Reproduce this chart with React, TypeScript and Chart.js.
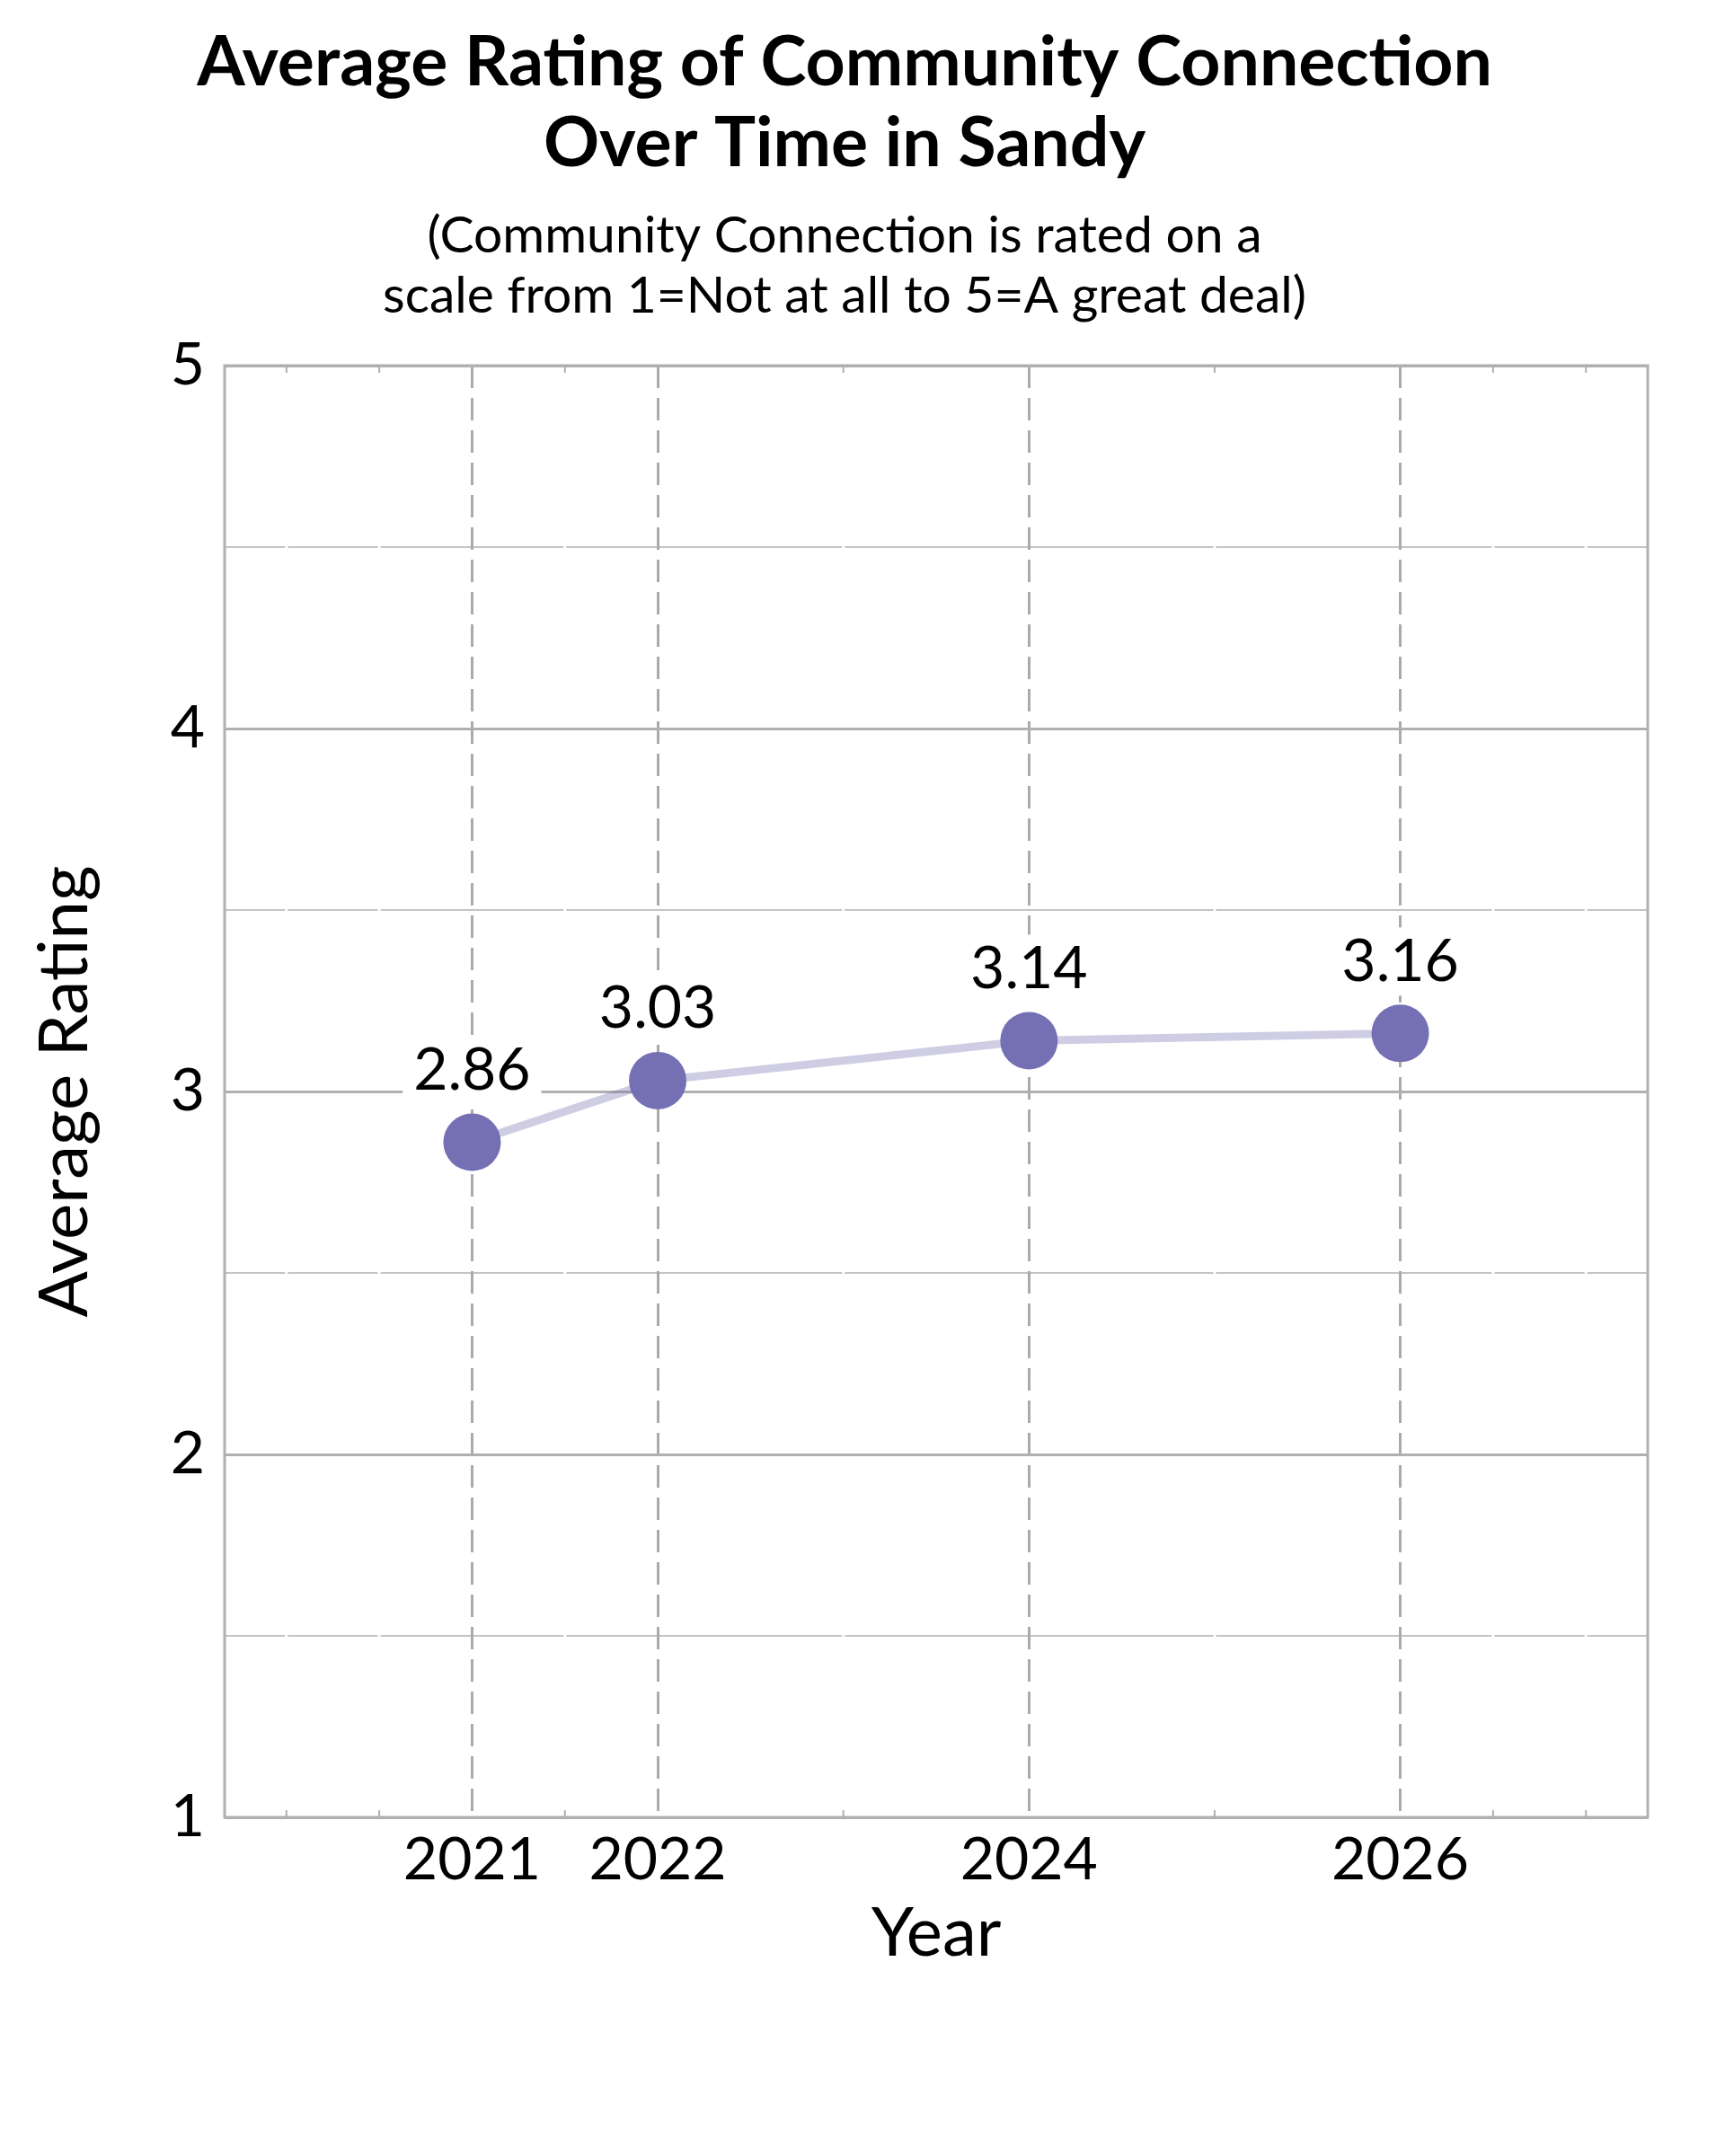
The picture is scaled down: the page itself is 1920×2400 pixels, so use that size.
import React, { useEffect, useRef } from 'react';
import { Chart, registerables } from 'chart.js';

Chart.register(...registerables);

// Data
const years = [2021, 2022, 2024, 2026];
const ratings = [2.86, 3.03, 3.14, 3.16];
const yearTicks = [2021, 2022, 2024, 2026];
const minorYearTicks = [2020, 2020.5, 2021.5, 2023, 2025, 2026.5, 2027];
const ratingTicks = [1, 2, 3, 4, 5];
const minorRatingTicks = [1.5, 2.5, 3.5, 4.5];
const titleLines = ['Average Rating of Community Connection', 'Over Time in Sandy'];
const subtitleLines = ['(Community Connection is rated on a', 'scale from 1=Not at all to 5=A great deal)'];

const FONT = 'Lato, "Open Sans", sans-serif';

// minor grid: light lines at half ratings, cut by white minor year lines
const minorGrid = {
  id: 'minorGrid',
  beforeDraw(chart: any) {
    const { ctx, chartArea, scales } = chart;
    ctx.save();
    ctx.strokeStyle = '#c4c4c4';
    ctx.lineWidth = 2;
    minorRatingTicks.forEach(v => {
      const y = scales.y.getPixelForValue(v);
      ctx.beginPath();
      ctx.moveTo(chartArea.left, y);
      ctx.lineTo(chartArea.right, y);
      ctx.stroke();
    });
    ctx.strokeStyle = '#ffffff';
    ctx.lineWidth = 3;
    minorYearTicks.forEach(v => {
      const x = scales.x.getPixelForValue(v);
      ctx.beginPath();
      ctx.moveTo(x, chartArea.top);
      ctx.lineTo(x, chartArea.bottom);
      ctx.stroke();
    });
    ctx.restore();
  },
};

// frame, small minor tick marks and value labels
const frameAndLabels = {
  id: 'frameAndLabels',
  beforeDatasetsDraw(chart: any) {
    const { ctx, chartArea, scales } = chart;
    ctx.save();
    ctx.strokeStyle = '#b0b0b0';
    ctx.lineWidth = 2;
    minorYearTicks.forEach(v => {
      const x = scales.x.getPixelForValue(v);
      ctx.beginPath();
      ctx.moveTo(x, chartArea.top);
      ctx.lineTo(x, chartArea.top + 8);
      ctx.moveTo(x, chartArea.bottom);
      ctx.lineTo(x, chartArea.bottom - 8);
      ctx.stroke();
    });
    ctx.lineWidth = 3;
    ctx.strokeRect(chartArea.left, chartArea.top, chartArea.right - chartArea.left, chartArea.bottom - chartArea.top);

    const meta = chart.getDatasetMeta(0);
    ctx.font = `66px ${FONT}`;
    ctx.textAlign = 'center';
    ctx.textBaseline = 'middle';
    meta.data.forEach((pt: any, i: number) => {
      const text = ratings[i].toFixed(2);
      const w = ctx.measureText(text).width + 24;
      const cy = pt.y - 80;
      ctx.fillStyle = '#ffffff';
      ctx.fillRect(pt.x - w / 2, cy - 38, w, 76);
      ctx.fillStyle = '#000000';
      ctx.fillText(text, pt.x, cy);
    });
    ctx.restore();
  },
};

const App: React.FC = () => {
  const canvasRef = useRef<HTMLCanvasElement>(null);

  useEffect(() => {
    if (!canvasRef.current) return;
    const chart = new Chart(canvasRef.current, {
      type: 'line',
      data: {
        datasets: [
          {
            label: 'Average Rating',
            data: years.map((y, i) => ({ x: y, y: ratings[i] })),
            borderColor: 'rgba(117, 112, 179, 0.35)',
            borderWidth: 9,
            pointRadius: 32,
            pointHoverRadius: 32,
            pointBackgroundColor: '#7570b3',
            pointBorderWidth: 0,
            tension: 0,
          },
        ],
      },
      options: {
        responsive: false,
        animation: false,
        devicePixelRatio: 1,
        layout: { padding: { top: 0, left: 0, right: 0, bottom: 197 } },
        plugins: {
          legend: { display: false },
          tooltip: { enabled: false },
          title: {
            display: true,
            text: titleLines,
            color: '#000',
            font: { family: FONT, size: 77, weight: 'bold', lineHeight: 90 / 77 },
            padding: { top: 25, bottom: 0 },
          },
          subtitle: {
            display: true,
            text: subtitleLines,
            color: '#000',
            font: { family: FONT, size: 57, lineHeight: 67 / 57 },
            padding: { top: 24, bottom: 44 },
          },
        },
        scales: {
          x: {
            type: 'linear',
            min: 2019.667,
            max: 2027.333,
            afterBuildTicks: (s: any) => {
              s.ticks = yearTicks.map(v => ({ value: v }));
            },
            afterFit: (s: any) => {
              s.height = 180;
            },
            grid: { color: '#aaaaaa', lineWidth: 3, drawTicks: false },
            border: { display: false, dash: [25, 11] },
            ticks: {
              color: '#000',
              padding: 8,
              font: { family: FONT, size: 66 },
              callback: (v: any) => String(v),
            },
            title: {
              display: true,
              text: 'Year',
              color: '#000',
              font: { family: FONT, size: 76, lineHeight: 1 },
              padding: { top: 0, bottom: 13 },
            },
          },
          y: {
            type: 'linear',
            min: 1,
            max: 5,
            afterBuildTicks: (s: any) => {
              s.ticks = ratingTicks.map(v => ({ value: v }));
            },
            afterFit: (s: any) => {
              s.width = 250;
            },
            grid: { color: '#b0b0b0', lineWidth: 3, drawTicks: false },
            border: { display: false },
            ticks: {
              color: '#000',
              padding: 22,
              font: { family: FONT, size: 66 },
              callback: (v: any) => String(v),
            },
            title: {
              display: true,
              text: 'Average Rating',
              color: '#000',
              font: { family: FONT, size: 76, lineHeight: 1 },
              padding: { top: 34, bottom: 0 },
            },
          },
          yRight: {
            type: 'linear',
            position: 'right',
            min: 1,
            max: 5,
            afterFit: (s: any) => {
              s.width = 46;
            },
            grid: { display: false },
            ticks: { display: false },
            border: { display: false },
          },
        },
      },
      plugins: [minorGrid, frameAndLabels],
    });

    return () => {
      chart.destroy();
    };
  }, []);

  return (
    <div style={{ position: 'absolute', left: 0, top: 0, width: 1880, height: 2400, background: '#fff' }}>
      <canvas ref={canvasRef} width={1880} height={2400}></canvas>
    </div>
  );
};

export default App;
